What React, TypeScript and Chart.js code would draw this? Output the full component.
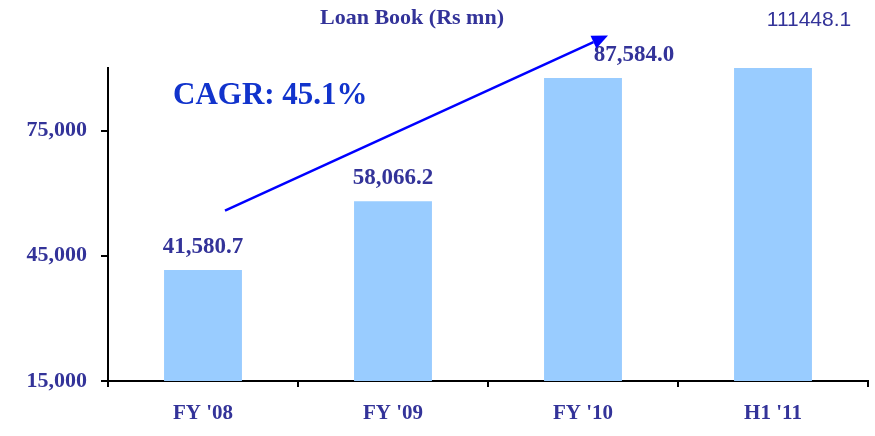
import React, { useEffect, useRef } from "react";
import { Chart, registerables } from "chart.js";

Chart.register(...registerables);

const categories = ["FY '08", "FY '09", "FY '10", "H1 '11"];
const loanBook = [41580.7, 58066.2, 87584.0, 111448.1];
const valueLabels = ["41,580.7", "58,066.2", "87,584.0", "111448.1"];
const yTicks = [15000, 45000, 75000];
const titleText = "Loan Book (Rs mn)";
const cagrText = "CAGR: 45.1%";

const NAVY = "#333399";
const SERIF = "'Liberation Serif', 'Times New Roman', serif";

const overlay = {
  id: "overlay",
  afterDatasetsDraw(chart: any) {
    const ctx = chart.ctx;
    const meta = chart.getDatasetMeta(0);
    const xs = chart.scales.x;
    const ys = chart.scales.y;
    ctx.save();
    // title
    ctx.fillStyle = NAVY;
    ctx.font = `bold 22px ${SERIF}`;
    ctx.textAlign = "center";
    ctx.textBaseline = "middle";
    ctx.fillText(titleText, 412, 18);
    // value labels
    meta.data.forEach((bar: any, i: number) => {
      if (i < 3) {
        ctx.font = `bold 23px ${SERIF}`;
        ctx.fillStyle = NAVY;
        ctx.textAlign = "center";
        ctx.textBaseline = "middle";
        const dx = i === 2 ? 51 : 0;
        ctx.fillText(valueLabels[i], bar.x + dx, bar.y - 23);
      } else {
        ctx.font = `21px 'Liberation Sans', Arial, sans-serif`;
        ctx.fillStyle = NAVY;
        ctx.textAlign = "center";
        ctx.textBaseline = "middle";
        ctx.fillText(valueLabels[i], bar.x + 36, 20);
      }
    });
    // CAGR text
    ctx.font = `bold 31px ${SERIF}`;
    ctx.fillStyle = "#1133CC";
    ctx.textAlign = "left";
    ctx.textBaseline = "middle";
    ctx.fillText(cagrText, 173, 96);
    // arrow
    const x0 = xs.getPixelForValue(0) + 22;
    const y0 = ys.getPixelForValue(55800);
    const x1 = xs.getPixelForValue(2) + 25;
    const y1 = ys.getPixelForValue(97800);
    ctx.strokeStyle = "#0000FF";
    ctx.fillStyle = "#0000FF";
    ctx.lineWidth = 2.5;
    const ang = Math.atan2(y1 - y0, x1 - x0);
    const hl = 16;
    const bx = x1 - hl * Math.cos(ang);
    const by = y1 - hl * Math.sin(ang);
    ctx.beginPath();
    ctx.moveTo(x0, y0);
    ctx.lineTo(bx, by);
    ctx.stroke();
    ctx.beginPath();
    ctx.moveTo(x1, y1);
    ctx.lineTo(bx + 7 * Math.sin(ang), by - 7 * Math.cos(ang));
    ctx.lineTo(bx - 7 * Math.sin(ang), by + 7 * Math.cos(ang));
    ctx.closePath();
    ctx.fill();
    ctx.restore();
  },
};

export default function App() {
  const ref = useRef<HTMLCanvasElement>(null);
  useEffect(() => {
    document.body.style.margin = "0";
    const chart = new Chart(ref.current!, {
      type: "bar",
      data: {
        labels: categories,
        datasets: [
          {
            data: loanBook,
            backgroundColor: "#99CCFF",
            borderWidth: 0,
            barPercentage: 0.41,
            categoryPercentage: 1,
          },
        ],
      },
      options: {
        animation: false,
        responsive: false,
        maintainAspectRatio: false,
        layout: { padding: { top: 68, right: 7, left: 0, bottom: 0 } },
        plugins: { legend: { display: false }, tooltip: { enabled: false } },
        scales: {
          x: {
            grid: {
              offset: true,
              drawOnChartArea: false,
              drawTicks: true,
              tickLength: 6,
              color: "#000",
              lineWidth: 2,
            },
            border: { display: true, color: "#000", width: 2 },
            ticks: {
              color: NAVY,
              font: { family: SERIF, size: 21, weight: "bold" },
              padding: 14,
            },
            afterFit(s: any) {
              s.height = 55;
            },
          },
          y: {
            min: 15000,
            max: 90000,
            afterBuildTicks(s: any) {
              s.ticks = yTicks.map((v) => ({ value: v }));
            },
            grid: {
              drawOnChartArea: false,
              drawTicks: true,
              tickLength: 7,
              color: "#000",
              lineWidth: 2,
            },
            border: { display: true, color: "#000", width: 2 },
            ticks: {
              color: NAVY,
              font: { family: SERIF, size: 22, weight: "bold" },
              padding: 14,
              callback: (v: any) => Number(v).toLocaleString("en-US"),
            },
            afterFit(s: any) {
              s.width = 108;
            },
          },
        },
      },
      plugins: [overlay],
    });
    return () => chart.destroy();
  }, []);
  return (
    <div style={{ width: 875, height: 436, background: "#fff" }}>
      <canvas ref={ref} width={875} height={436} />
    </div>
  );
}
